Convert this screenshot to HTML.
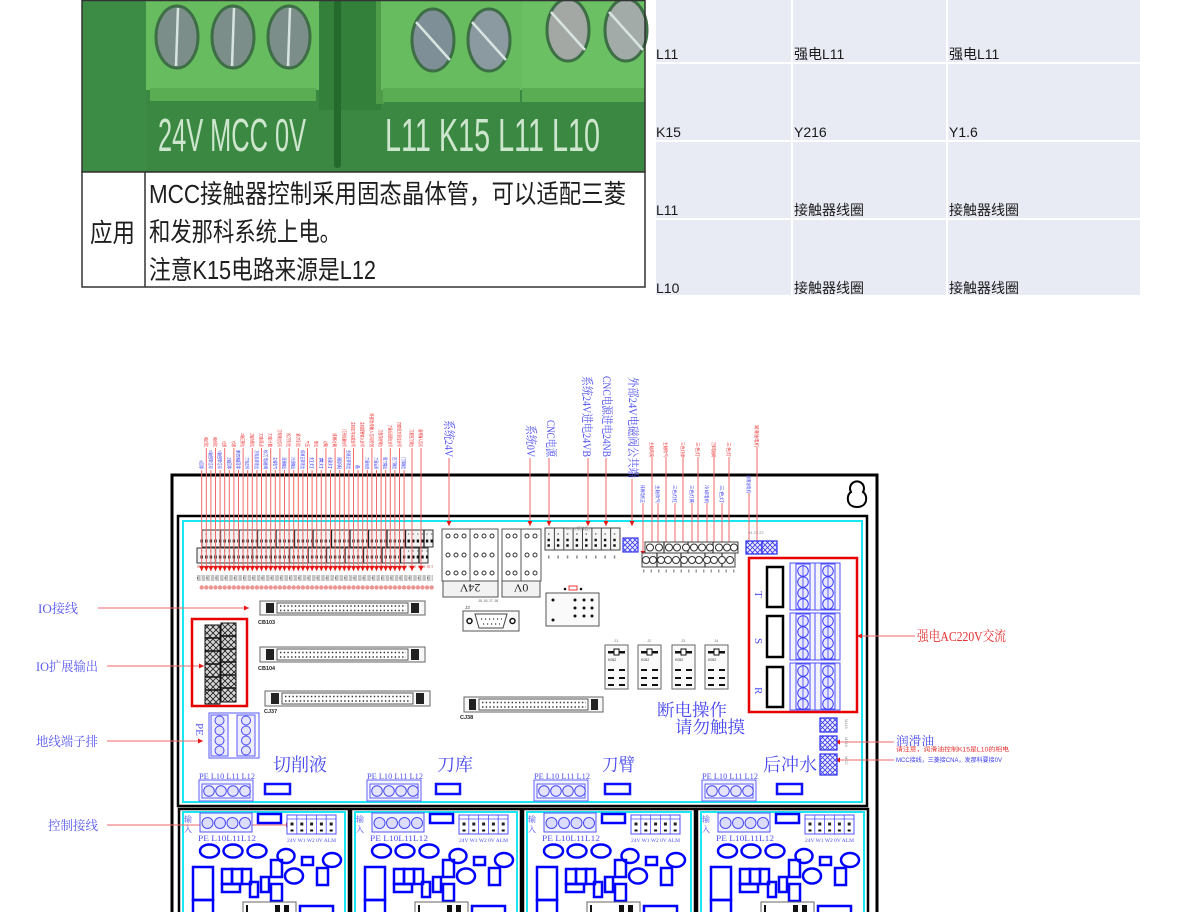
<!DOCTYPE html>
<html><head><meta charset="utf-8">
<style>
html,body{margin:0;padding:0;background:#fff;}
svg{display:block;font-family:"Liberation Sans","Noto Sans CJK SC",sans-serif;}
.sf{font-family:"Liberation Serif","Noto Serif CJK SC",serif;}
.cj{font-family:"Liberation Sans","Noto Sans CJK SC",sans-serif;}
</style></head><body>
<svg width="1200" height="912" viewBox="0 0 1200 912" xmlns="http://www.w3.org/2000/svg">
<defs>
<marker id="ar" markerWidth="5" markerHeight="5" refX="5" refY="2.5" orient="auto" markerUnits="userSpaceOnUse"><path d="M0,0 L5,2.5 L0,5 Z" fill="#e81515"/></marker>
<pattern id="hx" width="6" height="6" patternUnits="userSpaceOnUse"><rect width="6" height="6" fill="#d8d8d8"/><path d="M0,0 L6,6 M6,0 L0,6" stroke="#222" stroke-width="0.9"/></pattern>
<pattern id="hb" width="5" height="5" patternUnits="userSpaceOnUse"><rect width="5" height="5" fill="#eef"/><path d="M0,0 L5,5 M5,0 L0,5" stroke="#3a3aee" stroke-width="0.8"/></pattern>
</defs>

<!-- ============ PHOTO ============ -->
<rect x="82" y="0" width="563" height="172" fill="#3a8841"/>
<rect x="82" y="0" width="64" height="172" fill="#3d8c45"/>
<rect x="146" y="0" width="173" height="90" fill="#67bc5f"/>
<rect x="150" y="88" width="166" height="13" fill="#5aad52"/>
<rect x="319" y="0" width="62" height="110" fill="#33803b"/>
<rect x="334" y="0" width="7" height="168" rx="3" fill="#246a2c"/>
<rect x="376" y="0" width="8" height="104" fill="#4e9c48"/>
<rect x="381" y="0" width="141" height="90" fill="#67bc5f"/>
<rect x="383" y="88" width="137" height="14" fill="#5aad52"/>
<rect x="522" y="0" width="123" height="90" fill="#6ac062"/>
<rect x="522" y="88" width="123" height="14" fill="#5aad52"/>
<g stroke="#3d6e45" stroke-width="3">
<ellipse cx="177" cy="37" rx="21" ry="31" fill="#7b8e8a"/>
<ellipse cx="233" cy="37" rx="21" ry="31" fill="#7b8e8a"/>
<ellipse cx="289" cy="37" rx="21" ry="31" fill="#7b8e8a"/>
<ellipse cx="433" cy="40" rx="21" ry="31" fill="#7f8f98"/>
<ellipse cx="489" cy="40" rx="21" ry="31" fill="#8b9aa0"/>
<ellipse cx="568" cy="30" rx="21" ry="31" fill="#a3a8a5"/>
<ellipse cx="626" cy="30" rx="21" ry="31" fill="#a3aba8"/>
</g>
<g stroke="#d8e4e0" stroke-width="2.5">
<path d="M178,8 L176,66 M234,8 L232,66 M290,8 L288,66"/>
<path d="M416,22 L450,60 M472,22 L506,60 M551,12 L585,50 M609,12 L643,50"/>
</g>
<text x="158" y="151" font-size="46" fill="#cde6cd" textLength="148" lengthAdjust="spacingAndGlyphs">24V MCC 0V</text>
<text x="385" y="151" font-size="46" fill="#cde6cd" textLength="215" lengthAdjust="spacingAndGlyphs">L11 K15 L11 L10</text>
<rect x="82" y="0.5" width="563" height="171.5" fill="none" stroke="#333" stroke-width="1.5"/>

<!-- photo table row -->
<rect x="82" y="172" width="563" height="115" fill="#fff" stroke="#333" stroke-width="1.5"/>
<line x1="145" y1="172" x2="145" y2="287" stroke="#333" stroke-width="1.5"/>
<g class="cj" fill="#1e1e1e" font-size="26">
<text x="90" y="242" textLength="45" lengthAdjust="spacingAndGlyphs">应用</text>
<text x="149" y="203" textLength="477" lengthAdjust="spacingAndGlyphs">MCC接触器控制采用固态晶体管，可以适配三菱</text>
<text x="149" y="241" textLength="192" lengthAdjust="spacingAndGlyphs">和发那科系统上电。</text>
<text x="149" y="279" textLength="227" lengthAdjust="spacingAndGlyphs">注意K15电路来源是L12</text>
</g>

<!-- ============ RIGHT TABLE ============ -->
<g fill="#e8eaf4">
<rect x="656" y="0" width="135" height="62"/><rect x="793" y="0" width="153" height="62"/><rect x="948" y="0" width="192" height="62"/>
<rect x="656" y="64" width="135" height="76"/><rect x="793" y="64" width="153" height="76"/><rect x="948" y="64" width="192" height="76"/>
<rect x="656" y="142" width="135" height="76"/><rect x="793" y="142" width="153" height="76"/><rect x="948" y="142" width="192" height="76"/>
<rect x="656" y="220" width="135" height="75"/><rect x="793" y="220" width="153" height="75"/><rect x="948" y="220" width="192" height="75"/>
</g>
<g class="cj" font-size="14" fill="#1a1a1a">
<text x="656" y="59">L11</text><text x="794" y="59">强电L11</text><text x="949" y="59">强电L11</text>
<text x="656" y="137">K15</text><text x="794" y="137">Y216</text><text x="949" y="137">Y1.6</text>
<text x="656" y="215">L11</text><text x="794" y="215">接触器线圈</text><text x="949" y="215">接触器线圈</text>
<text x="656" y="293">L10</text><text x="794" y="293">接触器线圈</text><text x="949" y="293">接触器线圈</text>
</g>

<!-- ============ DIAGRAM FRAMES ============ -->
<rect x="172" y="475" width="705" height="470" fill="none" stroke="#000" stroke-width="3"/>
<rect x="178" y="516" width="689" height="290" fill="none" stroke="#000" stroke-width="2.5"/>
<rect x="183" y="521" width="679" height="281" fill="none" stroke="#19e6f0" stroke-width="2"/>
<path d="M851,492 A7,7 0 1 1 863,492 C868,495 868,507 857,507 C846,507 846,495 851,492 Z" fill="#fff" stroke="#000" stroke-width="2"/>

<!-- lower boards frames -->
<g fill="none" stroke="#000" stroke-width="2.5">
<rect x="179" y="809" width="170" height="130"/>
<rect x="351" y="809" width="170" height="130"/>
<rect x="523" y="809" width="172" height="130"/>
<rect x="697" y="809" width="171" height="130"/>
</g>
<g fill="none" stroke="#19e6f0" stroke-width="2">
<rect x="183" y="812" width="162" height="120"/>
<rect x="355" y="812" width="162" height="120"/>
<rect x="527" y="812" width="164" height="120"/>
<rect x="701" y="812" width="163" height="120"/>
</g>

<!-- ============ TOP TERMINAL ROWS ============ -->
<rect x="202" y="530" width="231" height="17" fill="#f3f3f3" stroke="#333"/>
<path d="M220.5 530V547M239 530V547M257.5 530V547M276 530V547M294.5 530V547M313 530V547M331.5 530V547M350 530V547M368.5 530V547M387 530V547M405.5 530V547M424 530V547" stroke="#222" stroke-width="1.3"/>
<line x1="200.5" y1="541" x2="433" y2="541" stroke="#111" stroke-width="3" stroke-dasharray="2.4 2.2"/>
<line x1="201" y1="534" x2="433" y2="534" stroke="#777" stroke-width="1.2" stroke-dasharray="1.2 3.4"/>
<rect x="197" y="548" width="231" height="15" fill="#f3f3f3" stroke="#333"/>
<path d="M215.5 548V563M234 548V563M252.5 548V563M271 548V563M289.5 548V563M308 548V563M326.5 548V563M345 548V563M363.5 548V563M382 548V563M400.5 548V563M419 548V563" stroke="#222" stroke-width="1.3"/>
<line x1="200.5" y1="557" x2="428" y2="557" stroke="#111" stroke-width="3" stroke-dasharray="2.4 2.2"/>
<line x1="201" y1="551" x2="428" y2="551" stroke="#777" stroke-width="1.2" stroke-dasharray="1.2 3.4"/>
<line x1="197" y1="566.5" x2="433" y2="566.5" stroke="#f2c0c0" stroke-width="3" stroke-dasharray="3 1.6"/>
<line x1="197" y1="578" x2="433" y2="578" stroke="#c4c4c4" stroke-width="6" stroke-dasharray="3.6 1"/>
<line x1="197" y1="578" x2="433" y2="578" stroke="#222" stroke-width="1" stroke-dasharray="1 8.2"/>
<line x1="201.7" y1="587.5" x2="432" y2="587.5" stroke="#ec9595" stroke-width="4.4" stroke-linecap="round" stroke-dasharray="0 4.6"/>

<!-- ============ TOP LABEL LINES ============ -->
<g stroke="#f26a6a" stroke-width="1" marker-end="url(#ar)">
<line x1="206.3" y1="448" x2="206.3" y2="571"/><line x1="215.5" y1="448" x2="215.5" y2="571"/><line x1="224.7" y1="448" x2="224.7" y2="571"/><line x1="233.9" y1="448" x2="233.9" y2="571"/><line x1="243.1" y1="448" x2="243.1" y2="571"/><line x1="252.3" y1="448" x2="252.3" y2="571"/><line x1="261.5" y1="448" x2="261.5" y2="571"/><line x1="270.7" y1="448" x2="270.7" y2="571"/><line x1="279.9" y1="448" x2="279.9" y2="571"/><line x1="289.1" y1="448" x2="289.1" y2="571"/><line x1="298.3" y1="448" x2="298.3" y2="571"/><line x1="307.5" y1="448" x2="307.5" y2="571"/><line x1="316.7" y1="448" x2="316.7" y2="571"/><line x1="325.9" y1="448" x2="325.9" y2="571"/><line x1="335.1" y1="448" x2="335.1" y2="571"/><line x1="344.3" y1="448" x2="344.3" y2="571"/><line x1="353.5" y1="448" x2="353.5" y2="571"/><line x1="362.7" y1="448" x2="362.7" y2="571"/><line x1="371.9" y1="448" x2="371.9" y2="571"/><line x1="381.1" y1="448" x2="381.1" y2="571"/><line x1="390.3" y1="448" x2="390.3" y2="571"/><line x1="399.5" y1="448" x2="399.5" y2="571"/><line x1="412" y1="448" x2="412" y2="571"/><line x1="421" y1="448" x2="421" y2="571"/>
<line x1="201.7" y1="470" x2="201.7" y2="571"/><line x1="210.9" y1="470" x2="210.9" y2="571"/><line x1="220.1" y1="470" x2="220.1" y2="571"/><line x1="229.3" y1="470" x2="229.3" y2="571"/><line x1="238.5" y1="470" x2="238.5" y2="571"/><line x1="247.7" y1="470" x2="247.7" y2="571"/><line x1="256.9" y1="470" x2="256.9" y2="571"/><line x1="266.1" y1="470" x2="266.1" y2="571"/><line x1="275.3" y1="470" x2="275.3" y2="571"/><line x1="284.5" y1="470" x2="284.5" y2="571"/><line x1="293.7" y1="470" x2="293.7" y2="571"/><line x1="302.9" y1="470" x2="302.9" y2="571"/><line x1="312.1" y1="470" x2="312.1" y2="571"/><line x1="321.3" y1="470" x2="321.3" y2="571"/><line x1="330.5" y1="470" x2="330.5" y2="571"/><line x1="339.7" y1="470" x2="339.7" y2="571"/><line x1="348.9" y1="470" x2="348.9" y2="571"/><line x1="358.1" y1="470" x2="358.1" y2="571"/><line x1="367.3" y1="470" x2="367.3" y2="571"/><line x1="376.5" y1="470" x2="376.5" y2="571"/><line x1="385.7" y1="470" x2="385.7" y2="571"/><line x1="394.9" y1="470" x2="394.9" y2="571"/><line x1="404.1" y1="470" x2="404.1" y2="571"/>
<!-- big labels -->
<line x1="449" y1="458" x2="449" y2="526"/><line x1="530" y1="458" x2="530" y2="526"/><line x1="549" y1="458" x2="549" y2="526"/><line x1="588" y1="458" x2="588" y2="526"/><line x1="606" y1="458" x2="606" y2="526"/><line x1="632" y1="479" x2="632" y2="526"/>
<!-- right group -->
<line x1="652" y1="457" x2="652" y2="556"/><line x1="666" y1="457" x2="666" y2="556"/><line x1="683" y1="457" x2="683" y2="556"/><line x1="698" y1="457" x2="698" y2="556"/><line x1="714" y1="457" x2="714" y2="556"/><line x1="729" y1="457" x2="729" y2="556"/>
<line x1="643" y1="503" x2="643" y2="556"/><line x1="658" y1="503" x2="658" y2="556"/><line x1="675" y1="503" x2="675" y2="556"/><line x1="692" y1="503" x2="692" y2="556"/><line x1="707" y1="503" x2="707" y2="556"/><line x1="722" y1="503" x2="722" y2="556"/>
<line x1="757" y1="447" x2="757" y2="546"/><line x1="749" y1="493" x2="749" y2="546"/>
<!-- side arrows -->
<line x1="98" y1="608" x2="249" y2="608"/><line x1="107" y1="666" x2="204" y2="666"/><line x1="107" y1="741" x2="203" y2="741"/><line x1="107" y1="825" x2="291" y2="825"/>
<line x1="915" y1="636" x2="857" y2="636"/><line x1="894" y1="742" x2="835" y2="742"/><line x1="894" y1="760" x2="835" y2="760"/>
</g>

<!-- tiny red labels -->
<g fill="#ee2a2a" font-size="4.5" class="cj">
<text transform="translate(204.3,436.7) rotate(90)" textLength="10.3" lengthAdjust="spacingAndGlyphs">X轴正限位</text>
<text transform="translate(213.5,436.7) rotate(90)" textLength="10.3" lengthAdjust="spacingAndGlyphs">X轴负限位</text>
<text transform="translate(222.7,440.7) rotate(90)" textLength="6.3" lengthAdjust="spacingAndGlyphs">Y正限</text>
<text transform="translate(231.9,440.7) rotate(90)" textLength="6.3" lengthAdjust="spacingAndGlyphs">Y负限</text>
<text transform="translate(241.1,433.3) rotate(90)" textLength="13.7" lengthAdjust="spacingAndGlyphs">Z轴正限位</text>
<text transform="translate(250.3,433.3) rotate(90)" textLength="13.7" lengthAdjust="spacingAndGlyphs">Z轴负限位</text>
<text transform="translate(259.5,433.3) rotate(90)" textLength="13.7" lengthAdjust="spacingAndGlyphs">刀库原点</text>
<text transform="translate(268.7,433.3) rotate(90)" textLength="13.7" lengthAdjust="spacingAndGlyphs">刀库计数</text>
<text transform="translate(277.9,429.3) rotate(90)" textLength="17.7" lengthAdjust="spacingAndGlyphs">刀库到位信号</text>
<text transform="translate(287.1,433.3) rotate(90)" textLength="13.7" lengthAdjust="spacingAndGlyphs">松刀到位</text>
<text transform="translate(296.3,433.3) rotate(90)" textLength="13.7" lengthAdjust="spacingAndGlyphs">紧刀到位</text>
<text transform="translate(305.5,440.7) rotate(90)" textLength="6.3" lengthAdjust="spacingAndGlyphs">气压</text>
<text transform="translate(314.7,440.7) rotate(90)" textLength="6.3" lengthAdjust="spacingAndGlyphs">液位</text>
<text transform="translate(323.9,440.7) rotate(90)" textLength="6.3" lengthAdjust="spacingAndGlyphs">过载</text>
<text transform="translate(333.1,433.3) rotate(90)" textLength="13.7" lengthAdjust="spacingAndGlyphs">排屑过载</text>
<text transform="translate(342.3,429.3) rotate(90)" textLength="17.7" lengthAdjust="spacingAndGlyphs">门开检测信号</text>
<text transform="translate(351.5,421.7) rotate(90)" textLength="25.3" lengthAdjust="spacingAndGlyphs">主轴定向完成信号</text>
<text transform="translate(360.7,421.7) rotate(90)" textLength="25.3" lengthAdjust="spacingAndGlyphs">主轴报警输入信号</text>
<text transform="translate(369.9,413.3) rotate(90)" textLength="33.7" lengthAdjust="spacingAndGlyphs">外部急停输入信号检测</text>
<text transform="translate(379.1,429.3) rotate(90)" textLength="17.7" lengthAdjust="spacingAndGlyphs">刀盘前进到位</text>
<text transform="translate(388.3,425) rotate(90)" textLength="22" lengthAdjust="spacingAndGlyphs">刀盘后退到位信号</text>
<text transform="translate(397.5,421.7) rotate(90)" textLength="25.3" lengthAdjust="spacingAndGlyphs">刀套倒刀到位信号</text>
<text transform="translate(410,429.3) rotate(90)" textLength="17.7" lengthAdjust="spacingAndGlyphs">刀套回刀到位</text>
<text transform="translate(419,429.3) rotate(90)" textLength="17.7" lengthAdjust="spacingAndGlyphs">备用输入信号</text>
</g>
<!-- tiny blue labels -->
<g fill="#3a3af0" font-size="4.5" class="cj">
<text transform="translate(199.7,460) rotate(90)" textLength="9" lengthAdjust="spacingAndGlyphs">X回零</text>
<text transform="translate(208.9,450) rotate(90)" textLength="19" lengthAdjust="spacingAndGlyphs">X轴回零信号</text>
<text transform="translate(218.1,450) rotate(90)" textLength="19" lengthAdjust="spacingAndGlyphs">Y轴回零信号</text>
<text transform="translate(227.3,457.3) rotate(90)" textLength="11.7" lengthAdjust="spacingAndGlyphs">Z轴回零</text>
<text transform="translate(236.5,450) rotate(90)" textLength="19" lengthAdjust="spacingAndGlyphs">第四轴回零</text>
<text transform="translate(245.7,457.3) rotate(90)" textLength="11.7" lengthAdjust="spacingAndGlyphs">刀库正转</text>
<text transform="translate(254.9,450) rotate(90)" textLength="19" lengthAdjust="spacingAndGlyphs">刀库反转输出</text>
<text transform="translate(264.1,450) rotate(90)" textLength="19" lengthAdjust="spacingAndGlyphs">松刀电磁阀</text>
<text transform="translate(273.3,457.3) rotate(90)" textLength="11.7" lengthAdjust="spacingAndGlyphs">主轴吹气</text>
<text transform="translate(282.5,457.3) rotate(90)" textLength="11.7" lengthAdjust="spacingAndGlyphs">润滑输出</text>
<text transform="translate(291.7,457.3) rotate(90)" textLength="11.7" lengthAdjust="spacingAndGlyphs">冷却输出</text>
<text transform="translate(300.9,450) rotate(90)" textLength="19" lengthAdjust="spacingAndGlyphs">排屑正转输出</text>
<text transform="translate(310.1,457.3) rotate(90)" textLength="11.7" lengthAdjust="spacingAndGlyphs">红灯</text>
<text transform="translate(319.3,457.3) rotate(90)" textLength="11.7" lengthAdjust="spacingAndGlyphs">黄灯</text>
<text transform="translate(328.5,457.3) rotate(90)" textLength="11.7" lengthAdjust="spacingAndGlyphs">绿灯</text>
<text transform="translate(337.7,457.3) rotate(90)" textLength="11.7" lengthAdjust="spacingAndGlyphs">照明</text>
<text transform="translate(346.9,450) rotate(90)" textLength="19" lengthAdjust="spacingAndGlyphs">主轴正转输出</text>
<text transform="translate(356.1,465) rotate(90)" textLength="4" lengthAdjust="spacingAndGlyphs">备</text>
<text transform="translate(365.3,457.3) rotate(90)" textLength="11.7" lengthAdjust="spacingAndGlyphs">刀盘前进</text>
<text transform="translate(374.5,457.3) rotate(90)" textLength="11.7" lengthAdjust="spacingAndGlyphs">刀盘后退</text>
<text transform="translate(383.7,457.3) rotate(90)" textLength="11.7" lengthAdjust="spacingAndGlyphs">倒刀输出</text>
<text transform="translate(392.9,457.3) rotate(90)" textLength="11.7" lengthAdjust="spacingAndGlyphs">回刀输出</text>
<text transform="translate(402.1,457.3) rotate(90)" textLength="11.7" lengthAdjust="spacingAndGlyphs">门锁输出</text>
</g>

<!-- big blue vertical labels -->
<g class="sf" fill="#5050ee" font-size="12">
<text transform="translate(445,420) rotate(90)" textLength="37" lengthAdjust="spacingAndGlyphs">系统24V</text>
<text transform="translate(527,425) rotate(90)" textLength="32" lengthAdjust="spacingAndGlyphs">系统0V</text>
<text transform="translate(547,420) rotate(90)" textLength="37" lengthAdjust="spacingAndGlyphs">CNC电源</text>
<text transform="translate(583,376) rotate(90)" textLength="81" lengthAdjust="spacingAndGlyphs">系统24V进电24VB</text>
<text transform="translate(603,376) rotate(90)" textLength="81" lengthAdjust="spacingAndGlyphs">CNC电源进电24NB</text>
<text transform="translate(629,377) rotate(90)" textLength="101" lengthAdjust="spacingAndGlyphs">外部24V电磁阀公共端</text>
</g>
<!-- right group tiny labels -->
<g class="cj" font-size="4.5" fill="#ee2a2a">
<text transform="translate(650,442) rotate(90)" textLength="15" lengthAdjust="spacingAndGlyphs">主轴风扇</text>
<text transform="translate(664,442) rotate(90)" textLength="15" lengthAdjust="spacingAndGlyphs">主轴吹气</text>
<text transform="translate(681,442) rotate(90)" textLength="15" lengthAdjust="spacingAndGlyphs">三色灯绿</text>
<text transform="translate(696,442) rotate(90)" textLength="15" lengthAdjust="spacingAndGlyphs">三色灯</text>
<text transform="translate(712,442) rotate(90)" textLength="15" lengthAdjust="spacingAndGlyphs">刀库电磁阀</text>
<text transform="translate(727,442) rotate(90)" textLength="15" lengthAdjust="spacingAndGlyphs">三色灯</text>
<text transform="translate(755,425) rotate(90)" textLength="22" lengthAdjust="spacingAndGlyphs">润滑油电机</text>
</g>
<g class="cj" font-size="4.5" fill="#3a3af0">
<text transform="translate(641,485) rotate(90)" textLength="18" lengthAdjust="spacingAndGlyphs">排屑电机正</text>
<text transform="translate(656,485) rotate(90)" textLength="18" lengthAdjust="spacingAndGlyphs">主轴吹气</text>
<text transform="translate(673,485) rotate(90)" textLength="18" lengthAdjust="spacingAndGlyphs">三色灯红</text>
<text transform="translate(690,485) rotate(90)" textLength="18" lengthAdjust="spacingAndGlyphs">三色灯黄</text>
<text transform="translate(705,485) rotate(90)" textLength="18" lengthAdjust="spacingAndGlyphs">冷却电机</text>
<text transform="translate(720,485) rotate(90)" textLength="18" lengthAdjust="spacingAndGlyphs">三色灯</text>
<text transform="translate(747,475) rotate(90)" textLength="18" lengthAdjust="spacingAndGlyphs">润滑油电机</text>
</g>

<!-- 24V / 0V blocks -->
<g fill="none" stroke="#555" stroke-width="1">
<rect x="442" y="529" width="28" height="52"/><rect x="470" y="529" width="28" height="52"/>
<rect x="502" y="529" width="19" height="52"/><rect x="521" y="529" width="20" height="52"/>
<rect x="443" y="581" width="55" height="16" fill="#f2f2f2"/>
<rect x="502" y="581" width="38" height="16" fill="#f2f2f2"/>
</g>
<g fill="#fff" stroke="#333" stroke-width="1">
<circle cx="448" cy="536" r="2"/><circle cx="456" cy="536" r="2"/><circle cx="464" cy="536" r="2"/>
<circle cx="476" cy="536" r="2"/><circle cx="484" cy="536" r="2"/><circle cx="492" cy="536" r="2"/>
<circle cx="448" cy="555" r="2"/><circle cx="456" cy="555" r="2"/><circle cx="464" cy="555" r="2"/>
<circle cx="476" cy="555" r="2"/><circle cx="484" cy="555" r="2"/><circle cx="492" cy="555" r="2"/>
<circle cx="448" cy="573" r="2"/><circle cx="456" cy="573" r="2"/><circle cx="464" cy="573" r="2"/>
<circle cx="476" cy="573" r="2"/><circle cx="484" cy="573" r="2"/><circle cx="492" cy="573" r="2"/>
<circle cx="508" cy="536" r="2"/><circle cx="515" cy="536" r="2"/><circle cx="527" cy="536" r="2"/><circle cx="535" cy="536" r="2"/>
<circle cx="508" cy="555" r="2"/><circle cx="515" cy="555" r="2"/><circle cx="527" cy="555" r="2"/><circle cx="535" cy="555" r="2"/>
<circle cx="508" cy="573" r="2"/><circle cx="515" cy="573" r="2"/><circle cx="527" cy="573" r="2"/><circle cx="535" cy="573" r="2"/>
</g>
<g class="sf" font-size="12" fill="#222">
<text transform="translate(470,584) rotate(180)" text-anchor="middle">24V</text>
<text transform="translate(521,584) rotate(180)" text-anchor="middle">0V</text>
</g>
<text x="478" y="602" font-size="4" fill="#666">J5 J6 J7 J8</text>

<!-- small terminal group 545-620 -->
<rect x="545" y="528" width="75" height="22" fill="#f6f6f6" stroke="#444"/>
<path d="M554.4 528V550M563.8 528V550M573.1 528V550M582.5 528V550M591.9 528V550M601.3 528V550M610.6 528V550" stroke="#444"/>
<line x1="547.5" y1="540" x2="620" y2="540" stroke="#111" stroke-width="2.5" stroke-dasharray="2.4 7"/>
<line x1="547.5" y1="545.5" x2="620" y2="545.5" stroke="#111" stroke-width="2.5" stroke-dasharray="2.4 7"/>
<line x1="548" y1="534" x2="620" y2="534" stroke="#777" stroke-width="1.5" stroke-dasharray="1.5 7.9"/>
<line x1="548" y1="557" x2="620" y2="557" stroke="#888" stroke-width="3" stroke-dasharray="1.5 7.9"/>
<text x="566" y="530" font-size="4" fill="#888">MCC(接触器)</text>
<rect x="623" y="538" width="15" height="14" fill="url(#hb)" stroke="#3a3aee" stroke-width="1.2"/>

<!-- right terminal group -->
<rect x="645" y="542" width="93" height="11" fill="#f6f6f6" stroke="#444"/>
<rect x="642" y="553" width="93" height="14" fill="#f6f6f6" stroke="#444"/>
<path d="M664 542V553M688 542V553M713 542V553M657 553V567M681 553V567M705 553V567M722 553V567" stroke="#333" stroke-width="1.2"/>
<g fill="#fff" stroke="#333" stroke-width="1">
<circle cx="650" cy="547.5" r="3.5"/><circle cx="659" cy="547.5" r="3.5"/><circle cx="669" cy="547.5" r="3.5"/><circle cx="677" cy="547.5" r="3.5"/><circle cx="686" cy="547.5" r="3.5"/><circle cx="694" cy="547.5" r="3.5"/><circle cx="702" cy="547.5" r="3.5"/><circle cx="710" cy="547.5" r="3.5"/><circle cx="719" cy="547.5" r="3.5"/><circle cx="727" cy="547.5" r="3.5"/><circle cx="734" cy="547.5" r="3.5"/>
<circle cx="646" cy="560" r="3.5"/><circle cx="653" cy="560" r="3.5"/><circle cx="661" cy="560" r="3.5"/><circle cx="668" cy="560" r="3.5"/><circle cx="676" cy="560" r="3.5"/><circle cx="684" cy="560" r="3.5"/><circle cx="692" cy="560" r="3.5"/><circle cx="699" cy="560" r="3.5"/><circle cx="707" cy="560" r="3.5"/><circle cx="714" cy="560" r="3.5"/><circle cx="722" cy="560" r="3.5"/><circle cx="730" cy="560" r="3.5"/>
</g>
<line x1="643" y1="571" x2="735" y2="571" stroke="#999" stroke-width="3" stroke-dasharray="1.5 6"/>
<rect x="746" y="541" width="16" height="13" fill="url(#hb)" stroke="#3a3aee" stroke-width="1.3"/>
<rect x="762" y="541" width="15" height="13" fill="url(#hb)" stroke="#3a3aee" stroke-width="1.3"/>
<text x="748" y="534" font-size="4" fill="#888">24 23 22</text>

<!-- chip block -->
<rect x="546" y="593" width="53" height="33" fill="#fafafa" stroke="#555"/>
<g fill="#111"><circle cx="553" cy="600" r="1.5"/><circle cx="575" cy="600" r="1.5"/><circle cx="584" cy="600" r="1.5"/><circle cx="592" cy="600" r="1.5"/><circle cx="575" cy="608" r="1.5"/><circle cx="584" cy="608" r="1.5"/><circle cx="592" cy="608" r="1.5"/><circle cx="575" cy="616" r="1.5"/><circle cx="584" cy="616" r="1.5"/><circle cx="592" cy="616" r="1.5"/><circle cx="553" cy="620" r="1.5"/></g>
<rect x="569" y="586" width="8" height="4" fill="#fff" stroke="#e33"/>
<circle cx="565" cy="589" r="1.3" fill="#111"/><circle cx="581" cy="589" r="1.3" fill="#111"/>

<!-- DB9 -->
<rect x="463" y="611" width="56" height="20" fill="#fafafa" stroke="#555"/>
<path d="M475,614 L507,614 L503,628 L479,628 Z" fill="#fff" stroke="#444"/>
<circle cx="469.5" cy="621" r="2.5" fill="#fff" stroke="#111" stroke-width="1.5"/>
<circle cx="512.5" cy="621" r="2.5" fill="#fff" stroke="#111" stroke-width="1.5"/>
<line x1="481" y1="619" x2="502" y2="619" stroke="#333" stroke-width="1.2" stroke-dasharray="1.2 2.8"/>
<line x1="483" y1="624" x2="500" y2="624" stroke="#333" stroke-width="1.2" stroke-dasharray="1.2 2.8"/>
<text x="465" y="609" font-size="4.5" fill="#444">J3</text>

<!-- relays -->
<g>
<rect x="605" y="645" width="23" height="44" fill="#fafafa" stroke="#666"/>
<rect x="608" y="651" width="17" height="2.5" fill="#111"/><rect x="614" y="649" width="5" height="6" fill="#fff" stroke="#111"/>
<text x="608" y="661" font-size="3.5" fill="#333">K052</text>
<rect x="608" y="669" width="6" height="2" fill="#111"/><rect x="619" y="669" width="6" height="2" fill="#111"/>
<rect x="608" y="677" width="6" height="2" fill="#111"/><rect x="619" y="677" width="6" height="2" fill="#111"/>
<rect x="608" y="684" width="6" height="2" fill="#111"/><rect x="619" y="684" width="6" height="2" fill="#111"/>
<text x="614" y="642" font-size="4" fill="#777">J1</text>
</g>
<g transform="translate(33,0)">
<rect x="605" y="645" width="23" height="44" fill="#fafafa" stroke="#666"/>
<rect x="608" y="651" width="17" height="2.5" fill="#111"/><rect x="614" y="649" width="5" height="6" fill="#fff" stroke="#111"/>
<text x="608" y="661" font-size="3.5" fill="#333">K052</text>
<rect x="608" y="669" width="6" height="2" fill="#111"/><rect x="619" y="669" width="6" height="2" fill="#111"/>
<rect x="608" y="677" width="6" height="2" fill="#111"/><rect x="619" y="677" width="6" height="2" fill="#111"/>
<rect x="608" y="684" width="6" height="2" fill="#111"/><rect x="619" y="684" width="6" height="2" fill="#111"/>
<text x="614" y="642" font-size="4" fill="#777">J2</text>
</g>
<g transform="translate(67,0)">
<rect x="605" y="645" width="23" height="44" fill="#fafafa" stroke="#666"/>
<rect x="608" y="651" width="17" height="2.5" fill="#111"/><rect x="614" y="649" width="5" height="6" fill="#fff" stroke="#111"/>
<text x="608" y="661" font-size="3.5" fill="#333">K052</text>
<rect x="608" y="669" width="6" height="2" fill="#111"/><rect x="619" y="669" width="6" height="2" fill="#111"/>
<rect x="608" y="677" width="6" height="2" fill="#111"/><rect x="619" y="677" width="6" height="2" fill="#111"/>
<rect x="608" y="684" width="6" height="2" fill="#111"/><rect x="619" y="684" width="6" height="2" fill="#111"/>
<text x="614" y="642" font-size="4" fill="#777">J3</text>
</g>
<g transform="translate(100,0)">
<rect x="605" y="645" width="23" height="44" fill="#fafafa" stroke="#666"/>
<rect x="608" y="651" width="17" height="2.5" fill="#111"/><rect x="614" y="649" width="5" height="6" fill="#fff" stroke="#111"/>
<text x="608" y="661" font-size="3.5" fill="#333">K052</text>
<rect x="608" y="669" width="6" height="2" fill="#111"/><rect x="619" y="669" width="6" height="2" fill="#111"/>
<rect x="608" y="677" width="6" height="2" fill="#111"/><rect x="619" y="677" width="6" height="2" fill="#111"/>
<rect x="608" y="684" width="6" height="2" fill="#111"/><rect x="619" y="684" width="6" height="2" fill="#111"/>
<text x="614" y="642" font-size="4" fill="#777">J4</text>
</g>

<!-- ribbon connectors -->
<g>
<rect x="260" y="601" width="165" height="14" fill="#f7f7f7" stroke="#666"/>
<rect x="266" y="603" width="8" height="10" fill="#222"/><rect x="411" y="603" width="8" height="10" fill="#222"/>
<rect x="277" y="603" width="131" height="10" fill="#fff" stroke="#555"/>
<line x1="280" y1="606" x2="406" y2="606" stroke="#333" stroke-width="1.4" stroke-dasharray="1.4 2.3"/>
<line x1="280" y1="610.5" x2="406" y2="610.5" stroke="#333" stroke-width="1.4" stroke-dasharray="1.4 2.3"/>
<text x="258" y="624" font-size="5.5" font-weight="bold" fill="#222">CB103</text>
</g>
<g>
<rect x="260" y="647" width="165" height="15" fill="#f7f7f7" stroke="#666"/>
<rect x="266" y="649" width="8" height="11" fill="#222"/><rect x="411" y="649" width="8" height="11" fill="#222"/>
<rect x="277" y="649" width="131" height="11" fill="#fff" stroke="#555"/>
<line x1="280" y1="652.5" x2="406" y2="652.5" stroke="#333" stroke-width="1.4" stroke-dasharray="1.4 2.3"/>
<line x1="280" y1="657" x2="406" y2="657" stroke="#333" stroke-width="1.4" stroke-dasharray="1.4 2.3"/>
<text x="258" y="670" font-size="5.5" font-weight="bold" fill="#222">CB104</text>
</g>
<g>
<rect x="265" y="691" width="165" height="15" fill="#f7f7f7" stroke="#666"/>
<rect x="271" y="693" width="8" height="11" fill="#222"/><rect x="416" y="693" width="8" height="11" fill="#222"/>
<rect x="282" y="693" width="131" height="11" fill="#fff" stroke="#555"/>
<line x1="285" y1="696.5" x2="411" y2="696.5" stroke="#333" stroke-width="1.4" stroke-dasharray="1.4 2.3"/>
<line x1="285" y1="701" x2="411" y2="701" stroke="#333" stroke-width="1.4" stroke-dasharray="1.4 2.3"/>
<text x="264" y="713" font-size="5.5" font-weight="bold" fill="#222">CJ37</text>
</g>
<g>
<rect x="464" y="697" width="139" height="15" fill="#f7f7f7" stroke="#666"/>
<rect x="469" y="699" width="7" height="11" fill="#222"/><rect x="591" y="699" width="7" height="11" fill="#222"/>
<rect x="479" y="699" width="109" height="11" fill="#fff" stroke="#555"/>
<line x1="482" y1="702.5" x2="586" y2="702.5" stroke="#333" stroke-width="1.4" stroke-dasharray="1.4 2.3"/>
<line x1="482" y1="707" x2="586" y2="707" stroke="#333" stroke-width="1.4" stroke-dasharray="1.4 2.3"/>
<text x="460" y="719" font-size="5.5" font-weight="bold" fill="#222">CJ38</text>
</g>

<!-- IO expand -->
<rect x="192" y="619" width="55" height="87" fill="none" stroke="#e80000" stroke-width="2.5"/>
<rect x="205" y="625" width="15" height="79" fill="url(#hx)" stroke="#111"/>
<rect x="221" y="623" width="15" height="79" fill="url(#hx)" stroke="#111"/>
<path d="M205 638H220M205 651H220M205 664H220M205 677H220M205 690H220M221 636H236M221 649H236M221 662H236M221 675H236M221 688H236" stroke="#111" stroke-width="1.5"/>

<!-- PE block -->
<rect x="209" y="713" width="50" height="45" fill="#fff" stroke="#5a5aff"/>
<rect x="211" y="715" width="17" height="41" fill="#eef" stroke="#5a5aff"/>
<rect x="237" y="715" width="18" height="41" fill="#eef" stroke="#5a5aff"/>
<g fill="#e4e4ff" stroke="#4a4af5" stroke-width="1">
<circle cx="219.5" cy="720.5" r="4.5"/><circle cx="219.5" cy="730.5" r="4.5"/><circle cx="219.5" cy="740.5" r="4.5"/><circle cx="219.5" cy="750.5" r="4.5"/>
<circle cx="246" cy="720.5" r="4.5"/><circle cx="246" cy="730.5" r="4.5"/><circle cx="246" cy="740.5" r="4.5"/><circle cx="246" cy="750.5" r="4.5"/>
</g>
<text class="sf" transform="translate(196,723) rotate(90)" font-size="11" fill="#5050ee">PE</text>

<!-- strong-power red box -->
<rect x="749" y="558" width="108" height="154" fill="none" stroke="#e80000" stroke-width="2.5"/>
<g fill="#fff" stroke="#000" stroke-width="2.5">
<rect x="767" y="567" width="16" height="40"/><rect x="767" y="616" width="16" height="41"/><rect x="767" y="667" width="16" height="40"/>
</g>
<g class="sf" font-size="11" fill="#4a4af0">
<text transform="translate(755,591) rotate(90)">T</text>
<text transform="translate(755,638) rotate(90)">S</text>
<text transform="translate(755,687) rotate(90)">R</text>
</g>
<g fill="#f4f4ff" stroke="#5050ff" stroke-width="1">
<rect x="790" y="563" width="25" height="47"/><rect x="815" y="563" width="25" height="47"/>
<rect x="790" y="613" width="25" height="47"/><rect x="815" y="613" width="25" height="47"/>
<rect x="790" y="663" width="25" height="47"/><rect x="815" y="663" width="25" height="47"/>
<rect x="796" y="564" width="14" height="45"/><rect x="821" y="564" width="14" height="45"/>
<rect x="796" y="614" width="14" height="45"/><rect x="821" y="614" width="14" height="45"/>
<rect x="796" y="664" width="14" height="45"/><rect x="821" y="664" width="14" height="45"/>
</g>
<g fill="#e8e8ff" stroke="#4040ff" stroke-width="1">
<circle cx="803" cy="571" r="5.3"/><circle cx="803" cy="582" r="5.3"/><circle cx="803" cy="593" r="5.3"/><circle cx="803" cy="604" r="5.3"/>
<circle cx="828" cy="571" r="5.3"/><circle cx="828" cy="582" r="5.3"/><circle cx="828" cy="593" r="5.3"/><circle cx="828" cy="604" r="5.3"/>
<circle cx="803" cy="621" r="5.3"/><circle cx="803" cy="632" r="5.3"/><circle cx="803" cy="643" r="5.3"/><circle cx="803" cy="654" r="5.3"/>
<circle cx="828" cy="621" r="5.3"/><circle cx="828" cy="632" r="5.3"/><circle cx="828" cy="643" r="5.3"/><circle cx="828" cy="654" r="5.3"/>
<circle cx="803" cy="671" r="5.3"/><circle cx="803" cy="682" r="5.3"/><circle cx="803" cy="693" r="5.3"/><circle cx="803" cy="704" r="5.3"/>
<circle cx="828" cy="671" r="5.3"/><circle cx="828" cy="682" r="5.3"/><circle cx="828" cy="693" r="5.3"/><circle cx="828" cy="704" r="5.3"/>
</g>
<path d="M803 565V610M828 565V610M803 615V660M828 615V660M803 665V710M828 665V710" stroke="#4040ff" stroke-width="0.8"/>

<!-- right small boxes -->
<rect x="820" y="718" width="17" height="14" fill="url(#hb)" stroke="#3a3aee" stroke-width="1.3"/>
<rect x="820" y="736" width="17" height="14" fill="url(#hb)" stroke="#3a3aee" stroke-width="1.3"/>
<rect x="820" y="754" width="17" height="21" fill="url(#hb)" stroke="#3a3aee" stroke-width="1.3"/>
<g font-size="4" fill="#888">
<text transform="translate(845,719) rotate(90)">M115</text>
<text transform="translate(845,737) rotate(90)">M116</text>
<text transform="translate(845,756) rotate(90)">MCC</text>
</g>

<!-- titles -->
<g class="sf" fill="#4848f0">
<text x="657" y="716" font-size="17" textLength="70" lengthAdjust="spacingAndGlyphs">断电操作</text>
<text x="675" y="733" font-size="17" textLength="70" lengthAdjust="spacingAndGlyphs">请勿触摸</text>
<text x="273" y="771" font-size="18" textLength="54" lengthAdjust="spacingAndGlyphs">切削液</text>
<text x="437" y="771" font-size="18" textLength="36" lengthAdjust="spacingAndGlyphs">刀库</text>
<text x="602" y="771" font-size="18" textLength="33" lengthAdjust="spacingAndGlyphs">刀臂</text>
<text x="763" y="771" font-size="18" textLength="54" lengthAdjust="spacingAndGlyphs">后冲水</text>
</g>

<!-- PE L10 L11 L12 groups -->
<g>
<g class="sf" font-size="8" fill="#5050ee">
<text x="199" y="779" textLength="56" lengthAdjust="spacingAndGlyphs">PE L10 L11 L12</text>
<text x="367" y="779" textLength="56" lengthAdjust="spacingAndGlyphs">PE L10 L11 L12</text>
<text x="534" y="779" textLength="56" lengthAdjust="spacingAndGlyphs">PE L10 L11 L12</text>
<text x="702" y="779" textLength="56" lengthAdjust="spacingAndGlyphs">PE L10 L11 L12</text>
</g>
<g fill="#f4f4ff" stroke="#6060ff" stroke-width="1">
<rect x="199" y="780" width="54" height="21"/><rect x="367" y="780" width="54" height="21"/><rect x="534" y="780" width="54" height="21"/><rect x="702" y="780" width="54" height="21"/>
<rect x="202" y="784" width="48" height="14"/><rect x="370" y="784" width="48" height="14"/><rect x="537" y="784" width="48" height="14"/><rect x="705" y="784" width="48" height="14"/>
</g>
<g fill="#e4e4ff" stroke="#4a4af5" stroke-width="1">
<circle cx="209" cy="791" r="5.3"/><circle cx="221" cy="791" r="5.3"/><circle cx="233" cy="791" r="5.3"/><circle cx="245" cy="791" r="5.3"/>
<circle cx="377" cy="791" r="5.3"/><circle cx="389" cy="791" r="5.3"/><circle cx="401" cy="791" r="5.3"/><circle cx="413" cy="791" r="5.3"/>
<circle cx="544" cy="791" r="5.3"/><circle cx="556" cy="791" r="5.3"/><circle cx="568" cy="791" r="5.3"/><circle cx="580" cy="791" r="5.3"/>
<circle cx="712" cy="791" r="5.3"/><circle cx="724" cy="791" r="5.3"/><circle cx="736" cy="791" r="5.3"/><circle cx="748" cy="791" r="5.3"/>
</g>
<g fill="none" stroke="#1010ff" stroke-width="2.5">
<rect x="265" y="784" width="25" height="10"/><rect x="436" y="784" width="24" height="10"/><rect x="605" y="784" width="25" height="10"/><rect x="777" y="784" width="25" height="10"/>
</g>
</g>

<!-- ============ LOWER BOARDS ============ -->
<g>
<g class="sf" font-size="8" fill="#5050ee">
<text x="184" y="822">输</text><text x="184" y="832">入</text>
<text x="198" y="841" textLength="58" lengthAdjust="spacingAndGlyphs">PE L10L11L12</text>
</g>
<rect x="200" y="813" width="52" height="19" fill="#f2f2ff" stroke="#5050ff"/>
<g fill="#dcdcff" stroke="#4a4af5"><circle cx="207.5" cy="823" r="5.5"/><circle cx="220" cy="823" r="5.5"/><circle cx="232.5" cy="823" r="5.5"/><circle cx="245" cy="823" r="5.5"/></g>
<rect x="258" y="814" width="23" height="9" fill="none" stroke="#0000ff" stroke-width="2.5"/>
<rect x="287" y="815" width="49" height="19" fill="#fff" stroke="#5050ff"/>
<path d="M296.8 815V834M306.6 815V834M316.4 815V834M326.2 815V834M287 819H336" stroke="#5050ff" stroke-width="0.8"/>
<line x1="290.5" y1="824" x2="336" y2="824" stroke="#222" stroke-width="3" stroke-dasharray="3 6.8"/>
<line x1="290.5" y1="830.5" x2="336" y2="830.5" stroke="#111" stroke-width="2" stroke-dasharray="3 6.8"/>
<text x="287" y="842" font-size="5" fill="#5050ee" class="sf" textLength="49" lengthAdjust="spacingAndGlyphs">24V W1 W2 0V ALM</text>
<g fill="none" stroke="#0000ff" stroke-width="2.5">
<ellipse cx="209.5" cy="851" rx="9.5" ry="6.5"/><ellipse cx="233" cy="851" rx="9.5" ry="6.5"/><ellipse cx="257" cy="851" rx="9.5" ry="6.5"/>
<ellipse cx="286" cy="856" rx="8.5" ry="7"/><ellipse cx="332" cy="860" rx="9" ry="7"/><ellipse cx="294" cy="876" rx="9" ry="7.5"/>
<rect x="302" y="857" width="11" height="8"/>
<rect x="193" y="867" width="20" height="33"/><rect x="193" y="900" width="20" height="20"/>
<rect x="222" y="869" width="10" height="15"/><rect x="232" y="869" width="10" height="15"/><rect x="242" y="869" width="9" height="15"/>
<rect x="222" y="884" width="18" height="8"/>
<rect x="250" y="882" width="8" height="15"/><rect x="261" y="877" width="8" height="15"/>
<rect x="271" y="860" width="11" height="17"/><rect x="271" y="884" width="11" height="17"/>
<rect x="317" y="868" width="11" height="17"/>
<rect x="300" y="906" width="33" height="10"/>
</g>
<rect x="243" y="902" width="53" height="14" fill="#fff" stroke="#666"/>
<rect x="246" y="905" width="2" height="7" fill="#111"/><rect x="275" y="905" width="5" height="7" fill="#111"/><rect x="284" y="905" width="5" height="7" fill="#111"/>
</g>
<g transform="translate(172,0)">
<g class="sf" font-size="8" fill="#5050ee">
<text x="184" y="822">输</text><text x="184" y="832">入</text>
<text x="198" y="841" textLength="58" lengthAdjust="spacingAndGlyphs">PE L10L11L12</text>
</g>
<rect x="200" y="813" width="52" height="19" fill="#f2f2ff" stroke="#5050ff"/>
<g fill="#dcdcff" stroke="#4a4af5"><circle cx="207.5" cy="823" r="5.5"/><circle cx="220" cy="823" r="5.5"/><circle cx="232.5" cy="823" r="5.5"/><circle cx="245" cy="823" r="5.5"/></g>
<rect x="258" y="814" width="23" height="9" fill="none" stroke="#0000ff" stroke-width="2.5"/>
<rect x="287" y="815" width="49" height="19" fill="#fff" stroke="#5050ff"/>
<path d="M296.8 815V834M306.6 815V834M316.4 815V834M326.2 815V834M287 819H336" stroke="#5050ff" stroke-width="0.8"/>
<line x1="290.5" y1="824" x2="336" y2="824" stroke="#222" stroke-width="3" stroke-dasharray="3 6.8"/>
<line x1="290.5" y1="830.5" x2="336" y2="830.5" stroke="#111" stroke-width="2" stroke-dasharray="3 6.8"/>
<text x="287" y="842" font-size="5" fill="#5050ee" class="sf" textLength="49" lengthAdjust="spacingAndGlyphs">24V W1 W2 0V ALM</text>
<g fill="none" stroke="#0000ff" stroke-width="2.5">
<ellipse cx="209.5" cy="851" rx="9.5" ry="6.5"/><ellipse cx="233" cy="851" rx="9.5" ry="6.5"/><ellipse cx="257" cy="851" rx="9.5" ry="6.5"/>
<ellipse cx="286" cy="856" rx="8.5" ry="7"/><ellipse cx="332" cy="860" rx="9" ry="7"/><ellipse cx="294" cy="876" rx="9" ry="7.5"/>
<rect x="302" y="857" width="11" height="8"/>
<rect x="193" y="867" width="20" height="33"/><rect x="193" y="900" width="20" height="20"/>
<rect x="222" y="869" width="10" height="15"/><rect x="232" y="869" width="10" height="15"/><rect x="242" y="869" width="9" height="15"/>
<rect x="222" y="884" width="18" height="8"/>
<rect x="250" y="882" width="8" height="15"/><rect x="261" y="877" width="8" height="15"/>
<rect x="271" y="860" width="11" height="17"/><rect x="271" y="884" width="11" height="17"/>
<rect x="317" y="868" width="11" height="17"/>
<rect x="300" y="906" width="33" height="10"/>
</g>
<rect x="243" y="902" width="53" height="14" fill="#fff" stroke="#666"/>
<rect x="246" y="905" width="2" height="7" fill="#111"/><rect x="275" y="905" width="5" height="7" fill="#111"/><rect x="284" y="905" width="5" height="7" fill="#111"/>
</g>
<g transform="translate(344,0)">
<g class="sf" font-size="8" fill="#5050ee">
<text x="184" y="822">输</text><text x="184" y="832">入</text>
<text x="198" y="841" textLength="58" lengthAdjust="spacingAndGlyphs">PE L10L11L12</text>
</g>
<rect x="200" y="813" width="52" height="19" fill="#f2f2ff" stroke="#5050ff"/>
<g fill="#dcdcff" stroke="#4a4af5"><circle cx="207.5" cy="823" r="5.5"/><circle cx="220" cy="823" r="5.5"/><circle cx="232.5" cy="823" r="5.5"/><circle cx="245" cy="823" r="5.5"/></g>
<rect x="258" y="814" width="23" height="9" fill="none" stroke="#0000ff" stroke-width="2.5"/>
<rect x="287" y="815" width="49" height="19" fill="#fff" stroke="#5050ff"/>
<path d="M296.8 815V834M306.6 815V834M316.4 815V834M326.2 815V834M287 819H336" stroke="#5050ff" stroke-width="0.8"/>
<line x1="290.5" y1="824" x2="336" y2="824" stroke="#222" stroke-width="3" stroke-dasharray="3 6.8"/>
<line x1="290.5" y1="830.5" x2="336" y2="830.5" stroke="#111" stroke-width="2" stroke-dasharray="3 6.8"/>
<text x="287" y="842" font-size="5" fill="#5050ee" class="sf" textLength="49" lengthAdjust="spacingAndGlyphs">24V W1 W2 0V ALM</text>
<g fill="none" stroke="#0000ff" stroke-width="2.5">
<ellipse cx="209.5" cy="851" rx="9.5" ry="6.5"/><ellipse cx="233" cy="851" rx="9.5" ry="6.5"/><ellipse cx="257" cy="851" rx="9.5" ry="6.5"/>
<ellipse cx="286" cy="856" rx="8.5" ry="7"/><ellipse cx="332" cy="860" rx="9" ry="7"/><ellipse cx="294" cy="876" rx="9" ry="7.5"/>
<rect x="302" y="857" width="11" height="8"/>
<rect x="193" y="867" width="20" height="33"/><rect x="193" y="900" width="20" height="20"/>
<rect x="222" y="869" width="10" height="15"/><rect x="232" y="869" width="10" height="15"/><rect x="242" y="869" width="9" height="15"/>
<rect x="222" y="884" width="18" height="8"/>
<rect x="250" y="882" width="8" height="15"/><rect x="261" y="877" width="8" height="15"/>
<rect x="271" y="860" width="11" height="17"/><rect x="271" y="884" width="11" height="17"/>
<rect x="317" y="868" width="11" height="17"/>
<rect x="300" y="906" width="33" height="10"/>
</g>
<rect x="243" y="902" width="53" height="14" fill="#fff" stroke="#666"/>
<rect x="246" y="905" width="2" height="7" fill="#111"/><rect x="275" y="905" width="5" height="7" fill="#111"/><rect x="284" y="905" width="5" height="7" fill="#111"/>
</g>
<g transform="translate(518,0)">
<g class="sf" font-size="8" fill="#5050ee">
<text x="184" y="822">输</text><text x="184" y="832">入</text>
<text x="198" y="841" textLength="58" lengthAdjust="spacingAndGlyphs">PE L10L11L12</text>
</g>
<rect x="200" y="813" width="52" height="19" fill="#f2f2ff" stroke="#5050ff"/>
<g fill="#dcdcff" stroke="#4a4af5"><circle cx="207.5" cy="823" r="5.5"/><circle cx="220" cy="823" r="5.5"/><circle cx="232.5" cy="823" r="5.5"/><circle cx="245" cy="823" r="5.5"/></g>
<rect x="258" y="814" width="23" height="9" fill="none" stroke="#0000ff" stroke-width="2.5"/>
<rect x="287" y="815" width="49" height="19" fill="#fff" stroke="#5050ff"/>
<path d="M296.8 815V834M306.6 815V834M316.4 815V834M326.2 815V834M287 819H336" stroke="#5050ff" stroke-width="0.8"/>
<line x1="290.5" y1="824" x2="336" y2="824" stroke="#222" stroke-width="3" stroke-dasharray="3 6.8"/>
<line x1="290.5" y1="830.5" x2="336" y2="830.5" stroke="#111" stroke-width="2" stroke-dasharray="3 6.8"/>
<text x="287" y="842" font-size="5" fill="#5050ee" class="sf" textLength="49" lengthAdjust="spacingAndGlyphs">24V W1 W2 0V ALM</text>
<g fill="none" stroke="#0000ff" stroke-width="2.5">
<ellipse cx="209.5" cy="851" rx="9.5" ry="6.5"/><ellipse cx="233" cy="851" rx="9.5" ry="6.5"/><ellipse cx="257" cy="851" rx="9.5" ry="6.5"/>
<ellipse cx="286" cy="856" rx="8.5" ry="7"/><ellipse cx="332" cy="860" rx="9" ry="7"/><ellipse cx="294" cy="876" rx="9" ry="7.5"/>
<rect x="302" y="857" width="11" height="8"/>
<rect x="193" y="867" width="20" height="33"/><rect x="193" y="900" width="20" height="20"/>
<rect x="222" y="869" width="10" height="15"/><rect x="232" y="869" width="10" height="15"/><rect x="242" y="869" width="9" height="15"/>
<rect x="222" y="884" width="18" height="8"/>
<rect x="250" y="882" width="8" height="15"/><rect x="261" y="877" width="8" height="15"/>
<rect x="271" y="860" width="11" height="17"/><rect x="271" y="884" width="11" height="17"/>
<rect x="317" y="868" width="11" height="17"/>
<rect x="300" y="906" width="33" height="10"/>
</g>
<rect x="243" y="902" width="53" height="14" fill="#fff" stroke="#666"/>
<rect x="246" y="905" width="2" height="7" fill="#111"/><rect x="275" y="905" width="5" height="7" fill="#111"/><rect x="284" y="905" width="5" height="7" fill="#111"/>
</g>

<!-- ============ SIDE LABELS ============ -->
<g class="sf" fill="#5a5af0" font-size="13">
<text x="38" y="613" textLength="40" lengthAdjust="spacingAndGlyphs">IO接线</text>
<text x="36" y="671" textLength="62" lengthAdjust="spacingAndGlyphs">IO扩展输出</text>
<text x="36" y="746" textLength="62" lengthAdjust="spacingAndGlyphs">地线端子排</text>
<text x="48" y="830" textLength="50" lengthAdjust="spacingAndGlyphs">控制接线</text>
</g>
<text class="sf" x="917" y="641" font-size="14" fill="#e53030" textLength="89" lengthAdjust="spacingAndGlyphs">强电AC220V交流</text>
<text class="sf" x="896" y="745" font-size="12" fill="#4a4af0" textLength="38" lengthAdjust="spacingAndGlyphs">润滑油</text>
<text class="cj" x="896" y="751.5" font-size="6" fill="#e53030" textLength="113" lengthAdjust="spacingAndGlyphs">请注意，润滑油控制K15是L10的相电</text>
<text class="cj" x="896" y="762" font-size="6" fill="#3a3af0" textLength="106" lengthAdjust="spacingAndGlyphs">MCC接线，三菱接CNA，发那科要接0V</text>
</svg>
</body></html>
